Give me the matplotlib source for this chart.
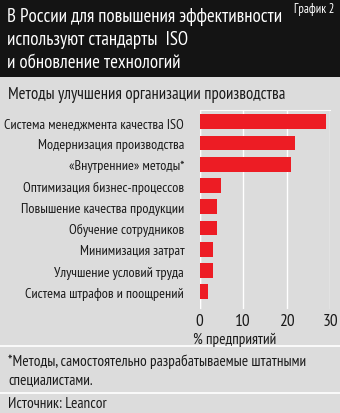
import matplotlib
matplotlib.use("Agg")
import matplotlib.pyplot as plt
from matplotlib.lines import Line2D
from matplotlib.patches import Rectangle

# --- данные ---
methods = [
    "Система менеджмента качества ISO",
    "Модернизация производства",
    "«Внутренние» методы*",
    "Оптимизация бизнес-процессов",
    "Повышение качества продукции",
    "Обучение сотрудников",
    "Минимизация затрат",
    "Улучшение условий труда",
    "Система штрафов и поощрений",
]
shares = [29, 22, 21, 5, 4, 4, 3, 3, 2]
xticks = [0, 10, 20, 30]

title_lines = [
    "В России для повышения эффективности",
    "используют стандарты  ISO",
    "и обновление технологий",
]
subtitle = "Методы улучшения организации производства"
footnote = ["*Методы, самостоятельно разрабатываемые штатными", "специалистами."]
source = "Источник: Leancor"

BG = "#dcdcdc"
RED = "#ed1c24"
DARK = "#141414"
TXT = "#1a1a1a"

plt.rcParams['font.family'] = ['PT Sans Narrow', 'Roboto Condensed', 'DejaVu Sans']

W, H = 340, 414
fig = plt.figure(figsize=(W / 100, H / 100), dpi=100, facecolor=BG)


def fy(py):
    # пиксели сверху -> доля фигуры
    return 1 - py / H


def fx(px):
    return px / W


# шапка
fig.patches.append(Rectangle((0, fy(78)), 1, 78 / H, transform=fig.transFigure,
                             facecolor=DARK, edgecolor="none", zorder=0))
for i, line in enumerate(title_lines):
    fig.text(fx(7), fy(17 + i * 23), line, color="white", fontsize=13.6,
             va="center", ha="left")
fig.text(fx(334), fy(9), "График 2", color="white", fontsize=9,
         va="center", ha="right")

fig.text(fx(8), fy(95), subtitle, color=TXT, fontsize=12, va="center", ha="left")

# белые разделители
for py in (347, 394):
    fig.add_artist(Line2D([0, 1], [fy(py), fy(py)], transform=fig.transFigure,
                          color="white", lw=1.2))

# график
ax = fig.add_axes([fx(199.5), fy(310), fx(330) - fx(199.5), (310 - 111) / H])
ax.set_facecolor(BG)
ypos = list(range(len(methods)))
ax.barh(ypos, shares, height=0.7, color=RED, zorder=3)
ax.set_xlim(0, 30)
ax.set_ylim(8.81, -0.55)
ax.set_yticks(ypos)
ax.set_yticklabels(methods, fontsize=10.2, color=TXT)
ax.set_xticks(xticks)
ax.set_xticklabels([str(t) for t in xticks], fontsize=12.5, color=TXT)
ax.tick_params(axis="y", length=0, pad=11)
ax.tick_params(axis="x", length=0, pad=3)
ax.grid(axis="x", color="white", lw=1.0, zorder=1)
for side in ("left", "right", "bottom"):
    ax.spines[side].set_visible(False)
ax.spines["top"].set_color("white")
ax.spines["top"].set_linewidth(0.8)
ax.axvline(0, color="white", lw=1.0, zorder=1)

fig.text(fx(193), fy(340), "% предприятий", color=TXT, fontsize=11,
         va="center", ha="left")

for i, line in enumerate(footnote):
    fig.text(fx(8), fy(362 + i * 18), line, color=TXT, fontsize=11,
             va="center", ha="left")
fig.text(fx(8), fy(404), source, color=TXT, fontsize=11, va="center", ha="left")

fig.savefig("out.png", dpi=100, facecolor=BG)
